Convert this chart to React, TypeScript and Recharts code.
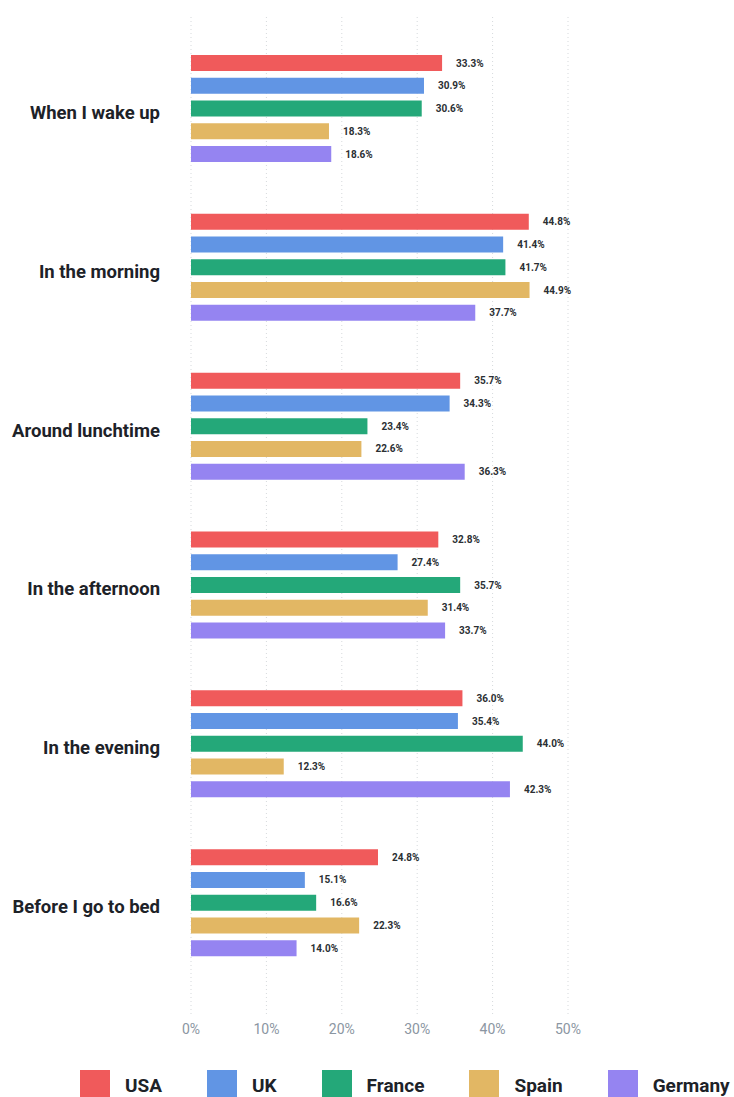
import { Bar, BarChart, CartesianGrid, LabelList, XAxis, YAxis } from 'recharts';

const categories = [
  'When I wake up',
  'In the morning',
  'Around lunchtime',
  'In the afternoon',
  'In the evening',
  'Before I go to bed',
];

const usa = [33.3, 44.8, 35.7, 32.8, 36.0, 24.8];
const uk = [30.9, 41.4, 34.3, 27.4, 35.4, 15.1];
const france = [30.6, 41.7, 23.4, 35.7, 44.0, 16.6];
const spain = [18.3, 44.9, 22.6, 31.4, 12.3, 22.3];
const germany = [18.6, 37.7, 36.3, 33.7, 42.3, 14.0];

const xTicks = [0, 10, 20, 30, 40, 50];

const series = [
  { key: 'usa', name: 'USA', color: '#f05a5b', values: usa },
  { key: 'uk', name: 'UK', color: '#6195e4', values: uk },
  { key: 'france', name: 'France', color: '#24a879', values: france },
  { key: 'spain', name: 'Spain', color: '#e2b764', values: spain },
  { key: 'germany', name: 'Germany', color: '#9584f1', values: germany },
];

const FONT = 'Roboto, "Noto Sans", sans-serif';

export default function App() {
  const chartData = categories.map((label, i) => {
    const row: Record<string, string | number> = { label };
    series.forEach((s) => {
      row[s.key] = s.values[i];
    });
    return row;
  });

  return (
    <div style={{ position: 'absolute', left: 0, top: 0, width: 734, height: 1097, fontFamily: FONT, background: '#fff', overflow: 'hidden' }}>
      <BarChart
        width={734}
        height={1050}
        data={chartData}
        layout="vertical"
        margin={{ top: 17, right: 166, left: 0, bottom: 5 }}
        barSize={16}
        barGap={6.75}
      >
        <CartesianGrid horizontal={false} stroke="#d6d9dc" strokeDasharray="1 3" />
        <XAxis
          type="number"
          domain={[0, 50]}
          ticks={xTicks}
          tickFormatter={(v) => `${v}%`}
          axisLine={false}
          tickLine={false}
          tickSize={0}
          tickMargin={9}
          height={30}
          tick={{ fill: '#8b96a2', fontSize: 14, fontFamily: FONT }}
        />
        <YAxis
          type="category"
          dataKey="label"
          width={191}
          axisLine={false}
          tickLine={false}
          tickSize={0}
          tickMargin={31}
          padding={{ top: 12, bottom: 33 }}
          tick={{ fill: '#1d2228', fontSize: 18.5, fontWeight: 700, fontFamily: FONT, dy: 4 }}
        />
        {series.map((s) => (
          <Bar key={s.key} dataKey={s.key} name={s.name} fill={s.color} isAnimationActive={false}>
            <LabelList
              dataKey={s.key}
              position="right"
              offset={14}
              formatter={(v: number) => `${v.toFixed(1)}%`}
              style={{ fill: '#2b2f33', fontSize: 10, fontWeight: 700, fontFamily: FONT }}
            />
          </Bar>
        ))}
      </BarChart>
      <div style={{ position: 'absolute', left: 80, top: 1070, display: 'flex', alignItems: 'center', gap: 45 }}>
        {series.map((s) => (
          <div key={s.key} style={{ display: 'flex', alignItems: 'center', gap: 15 }}>
            <div style={{ width: 30, height: 30, background: s.color }} />
            <span style={{ fontSize: 19, fontWeight: 700, color: '#1d2228' }}>{s.name}</span>
          </div>
        ))}
      </div>
    </div>
  );
}
